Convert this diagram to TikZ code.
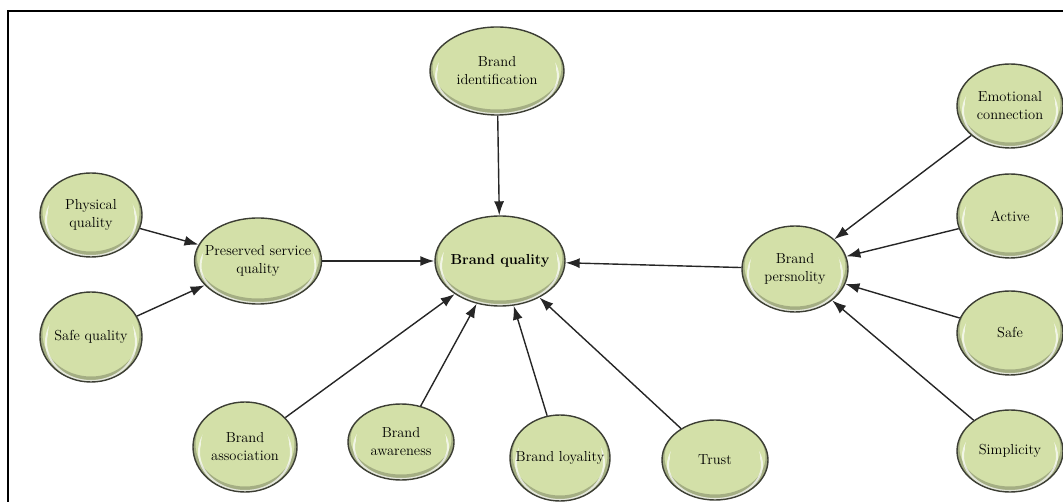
\documentclass[tikz,border=0pt]{standalone}
\usetikzlibrary{shapes.geometric,arrows.meta}
\definecolor{bubfill}{RGB}{211,224,168}
\definecolor{bubedge}{RGB}{60,62,52}
\tikzset{
  bub/.style={ellipse, draw=bubedge, line width=1.4pt, fill=bubfill, inner sep=0pt,
    path picture={
      \draw[black, opacity=0.22, line width=5pt]
        ([yshift=3pt]path picture bounding box.center) ellipse [x radius=0.5*\pgfkeysvalueof{/pgf/minimum width}, y radius=0.5*\pgfkeysvalueof{/pgf/minimum height}];
      \draw[white, opacity=0.7, line width=2pt]
        ([yshift=-5pt]path picture bounding box.center) ellipse [x radius=0.5*\pgfkeysvalueof{/pgf/minimum width}-6pt, y radius=0.5*\pgfkeysvalueof{/pgf/minimum height}-6pt];
      \fill[bubfill]
        ([yshift=2pt]path picture bounding box.center) ellipse [x radius=0.5*\pgfkeysvalueof{/pgf/minimum width}-8pt, y radius=0.5*\pgfkeysvalueof{/pgf/minimum height}-6pt];
    }},
  lab/.style={align=center, font=\fontsize{14.5}{18}\selectfont, inner sep=0pt},
  conn/.style={draw=black!85, line width=1.4pt, -{Latex[length=14pt,width=10pt]}},
}
\begin{document}
\begin{tikzpicture}[x=1pt,y=-1pt]
\useasboundingbox (0,0) rectangle (1063,502);
\clip (0,0) rectangle (1063,502);
\draw[line width=1.3pt] (8,510) -- (8,11) -- (1070,11);

\node[bub, minimum width=134pt, minimum height=88pt, label={[lab]center:Brand\\identification}] (bi) at (497,71) {};
\node[bub, minimum width=130pt, minimum height=90pt, label={[lab,font=\fontsize{14.5}{18}\selectfont\bfseries]center:Brand quality}] (bq) at (500,261) {};
\node[bub, minimum width=102pt, minimum height=84pt, label={[lab]center:Physical\\quality}] (pq) at (91,215) {};
\node[bub, minimum width=127pt, minimum height=86pt, label={[lab]center:Preserved service\\quality}] (psq) at (258,261) {};
\node[bub, minimum width=102pt, minimum height=90pt, label={[lab]center:Safe quality}] (sq) at (91,337) {};
\node[bub, minimum width=106pt, minimum height=86pt, label={[lab]center:Brand\\persnolity}] (bp) at (795,269) {};
\node[bub, minimum width=106pt, minimum height=84pt, label={[lab]center:Emotional\\connection}] (ec) at (1010,106) {};
\node[bub, minimum width=106pt, minimum height=84pt, label={[lab]center:Active}] (ac) at (1010,216) {};
\node[bub, minimum width=106pt, minimum height=84pt, label={[lab]center:Safe}] (sf) at (1010,333) {};
\node[bub, minimum width=106pt, minimum height=82pt, label={[lab]center:Simplicity}] (sp) at (1010,451) {};
\node[bub, minimum width=104pt, minimum height=90pt, label={[lab]center:Brand\\association}] (ba) at (245,447) {};
\node[bub, minimum width=106pt, minimum height=76pt, label={[lab]center:Brand\\awareness}] (baw) at (401,442) {};
\node[bub, minimum width=100pt, minimum height=86pt, label={[lab]center:Brand loyality}] (bl) at (560,458) {};
\node[bub, minimum width=106pt, minimum height=80pt, label={[lab]center:Trust}] (tr) at (715,460) {};

\draw[conn] (bi) -- (bq);
\draw[conn] (pq) -- (psq);
\draw[conn] (sq) -- (psq);
\draw[conn] (psq) -- (bq);
\draw[conn] (bp) -- (bq);
\draw[conn] (ec) -- (bp);
\draw[conn] (ac) -- (bp);
\draw[conn] (sf) -- (bp);
\draw[conn] (sp) -- (bp);
\draw[conn] (ba) -- (bq);
\draw[conn] (baw) -- (bq);
\draw[conn] (bl) -- (bq);
\draw[conn] (tr) -- (bq);
\end{tikzpicture}
\end{document}
